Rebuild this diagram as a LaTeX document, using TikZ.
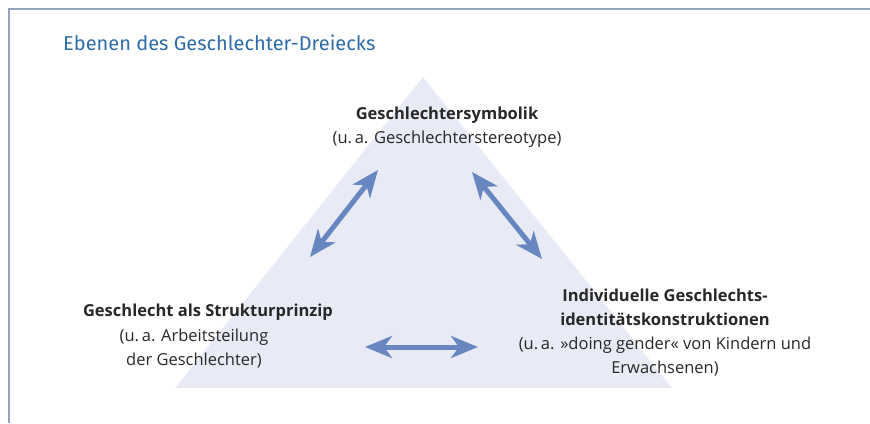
\documentclass[tikz,border=0pt]{standalone}
\usepackage{fontspec}
\setmainfont{Open Sans}
\newfontfamily\titlefont{Fira Sans}
\usetikzlibrary{arrows.meta,positioning}

\definecolor{frameblue}{RGB}{145,163,189}
\definecolor{titleblue}{RGB}{46,108,170}
\definecolor{trifill}{RGB}{232,234,245}
\definecolor{arrowblue}{RGB}{104,134,192}
\definecolor{textgray}{RGB}{40,40,40}

\begin{document}
\begin{tikzpicture}[
        x=1pt, y=-1pt,
        every node/.style={font=\fontsize{16.5}{24}\selectfont, text=textgray, inner sep=0pt},
        head/.style={font=\fontsize{16.5}{24}\selectfont\bfseries},
        block/.style={align=center},
        link/.style={arrowblue, line width=5pt,
            {Stealth[length=27pt, width=22pt, inset=8pt]}-{Stealth[length=27pt, width=22pt, inset=8pt]}}
    ]
    \useasboundingbox (0,0) rectangle (870,423);

    % Frame
    \draw[frameblue, line width=2pt] (9,423) -- (9,9) -- (870,9);

    % Title
    \node[anchor=base west, text=titleblue, font=\titlefont\fontsize{20}{24}\selectfont] (title) at (63,50)
    {Ebenen des Geschlechter-Dreiecks};

    % Triangle
    \fill[trifill] (175,388) -- (423,77) -- (672,388) -- cycle;

    % Corner texts
    \node[block] (sym) at (447,127)
    {{\bfseries Geschlechtersymbolik}\\(u.\,a. Geschlechterstereotype)};

    \node[head] (struktur) at (208,312) {Geschlecht als Strukturprinzip};
    \node[block, below=8pt of struktur, xshift=-14pt] (strukturtext)
    {(u.\,a. Arbeitsteilung\\der Geschlechter)};

    \node[block] (ident) at (665,333)
    {{\bfseries Individuelle Geschlechts-}\\{\bfseries identitätskonstruktionen}\\(u.\,a. »doing gender« von Kindern und\\Erwachsenen)};

    % Arrow ends
    \coordinate (a1) at (310,257);
    \coordinate (a2) at (378,170);
    \coordinate (b1) at (472,172);
    \coordinate (b2) at (542,259);
    \coordinate (c1) at (365,347);
    \coordinate (c2) at (478,347);

    % Arrows
    \draw[link] (a1) -- (a2);
    \draw[link] (b1) -- (b2);
    \draw[link] (c1) -- (c2);

\end{tikzpicture}
\end{document}
